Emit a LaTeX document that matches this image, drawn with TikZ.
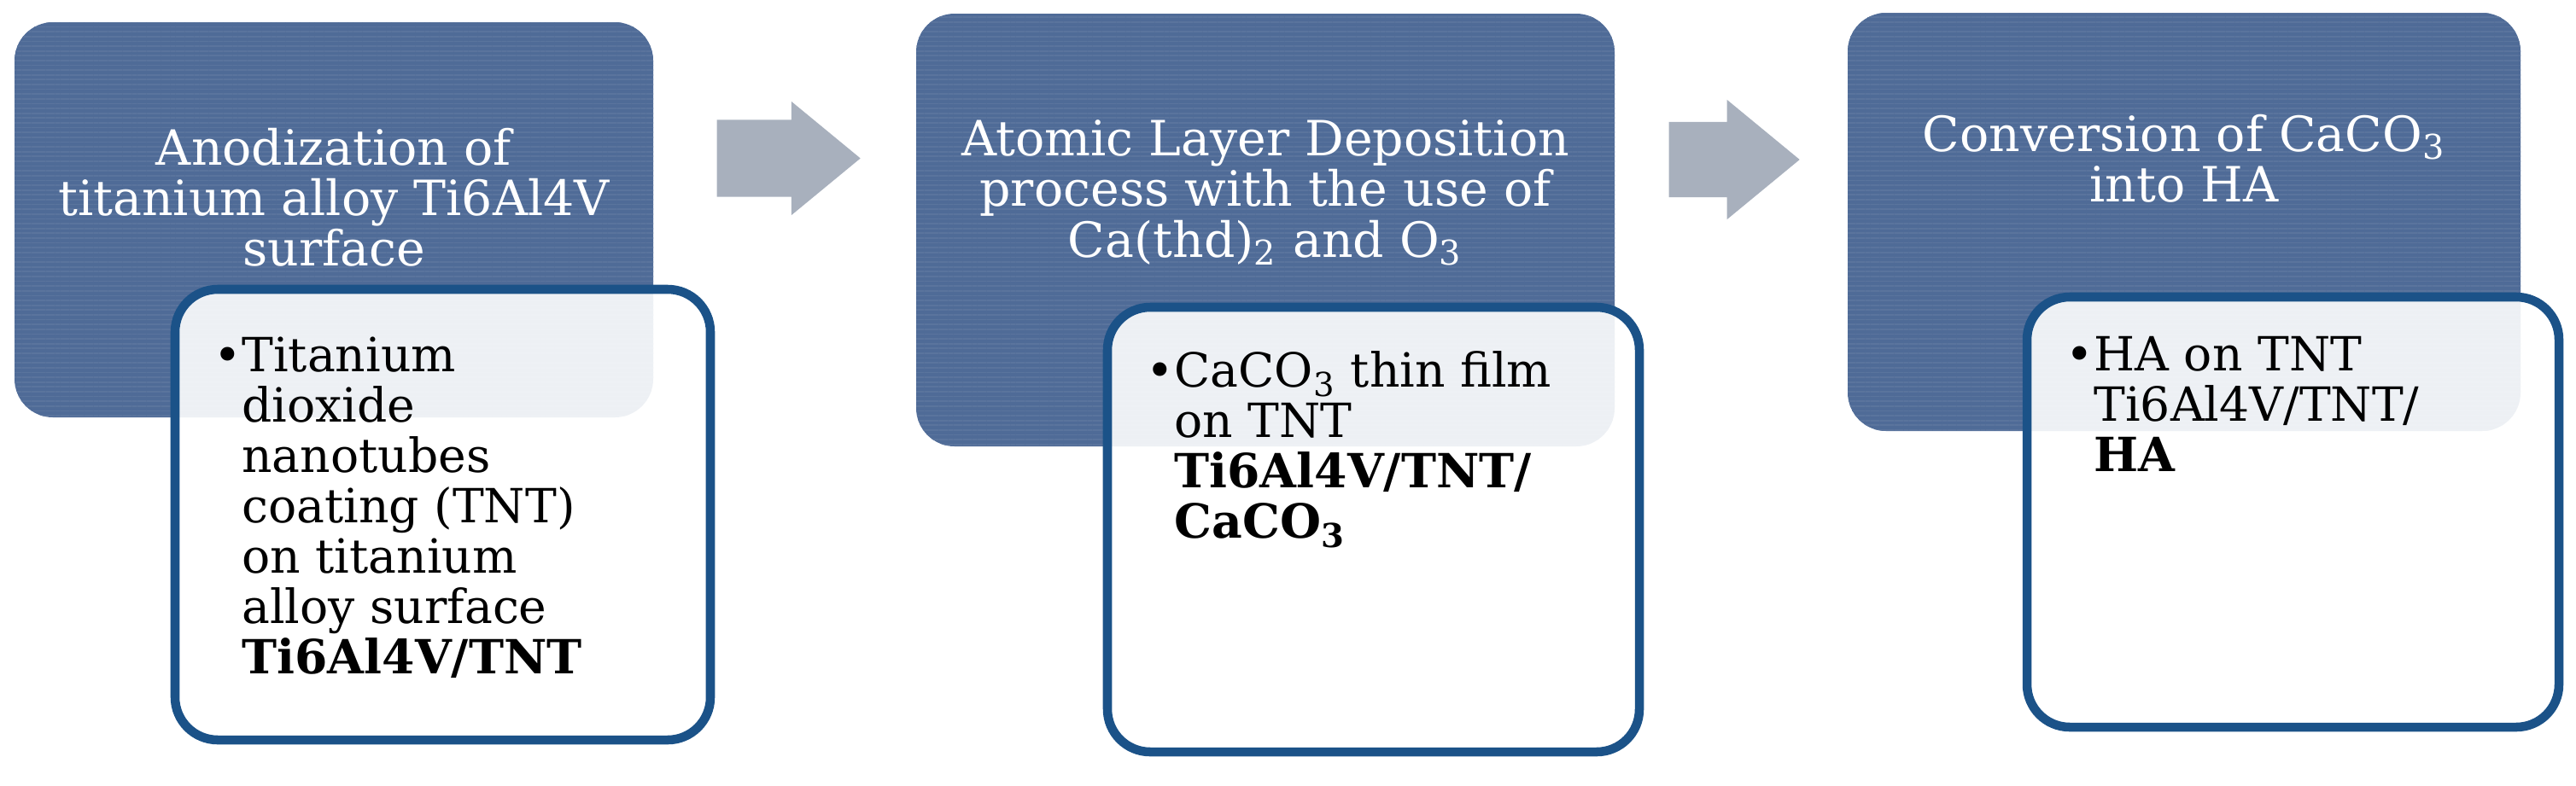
\documentclass[tikz,border=0pt]{standalone}
\usepackage{fontspec}
\setmainfont{DejaVu Serif}
\usepackage{tikz}
\usetikzlibrary{positioning, calc}
\usetikzlibrary{shapes.arrows}
\usetikzlibrary{patterns.meta}
\definecolor{stageblue}{RGB}{79,107,151}
\definecolor{edgeblue}{RGB}{27,82,136}
\definecolor{arrowgrey}{RGB}{168,176,189}

\begin{document}
\begin{tikzpicture}[font=\fontsize{15.7}{16.8}\selectfont]
	\tikzstyle{s-node}=[rectangle,rounded corners=0.45cm,fill=stageblue,inner sep=0pt,
		postaction={pattern={Lines[angle=0,distance=1.6pt,line width=0.5pt]},pattern color=stageblue!94!white}]
	\tikzstyle{r-node}=[rectangle,rounded corners=0.5cm,draw=edgeblue,line width=3pt,fill=white,fill opacity=0.9,inner sep=0pt]
	\tikzstyle{title}=[text=white,align=center,inner sep=0pt,font=\fontsize{16.2}{16.8}\selectfont]
	\tikzstyle{item}=[text=black,align=left,inner sep=0pt]
	\tikzstyle{flow}=[single arrow,fill=arrowgrey,inner xsep=0pt,anchor=tail,single arrow tip angle=79]
	\useasboundingbox (0,0) rectangle (30.17,-9.20);

	% process steps
	\node[s-node,minimum width=7.48cm,minimum height=4.63cm] (s1) at (3.91,-2.575) {};
	\node[s-node,minimum width=8.18cm,minimum height=5.07cm] (s2) at (14.82,-2.695) {};
	\node[s-node,minimum width=7.88cm,minimum height=4.90cm] (s3) at (25.58,-2.60) {};

	\node[title, below=1.24cm of s1.north] (s1-text) {Anodization of\\titanium alloy Ti6Al4V\\surface};
	\node[title, below=1.25cm of s2.north] (s2-text) {Atomic Layer Deposition\\process with the use of\\Ca(thd)\textsubscript{2} and O\textsubscript{3}};
	\node[title, below=1.19cm of s3.north] (s3-text) {Conversion of CaCO\textsubscript{3}\\into HA};

	% arrows between steps
	\node[flow,minimum height=1.68cm,inner ysep=0.445cm,single arrow head extend=0.215cm] (a1) at (8.39,-1.855) {};
	\node[flow,minimum height=1.53cm,inner ysep=0.435cm,single arrow head extend=0.26cm] (a2) at (19.54,-1.87) {};

	% results
	\node[r-node,minimum width=6.27cm,minimum height=5.28cm] (r1) at (5.185,-6.03) {};
	\node[r-node,minimum width=6.23cm,minimum height=5.21cm] (r2) at (16.085,-6.205) {};
	\node[r-node,minimum width=6.23cm,minimum height=5.04cm] (r3) at (26.855,-6.00) {};

	\node[item, below right=0.6cm and 0.83cm of r1.north west] (r1-text)
		{\llap{\textbullet}Titanium\\dioxide\\nanotubes\\coating (TNT)\\on titanium\\alloy surface\\\textbf{Ti6Al4V/TNT}};
	\node[item, below right=0.56cm and 0.83cm of r2.north west] (r2-text)
		{\llap{\textbullet}CaCO\textsubscript{3} thin film\\on TNT\\\textbf{Ti6Al4V/TNT/}\\\textbf{CaCO\textsubscript{3}}};
	\node[item, below right=0.51cm and 0.83cm of r3.north west] (r3-text)
		{\llap{\textbullet}HA on TNT\\Ti6Al4V/TNT/\\\textbf{HA}};
\end{tikzpicture}
\end{document}
